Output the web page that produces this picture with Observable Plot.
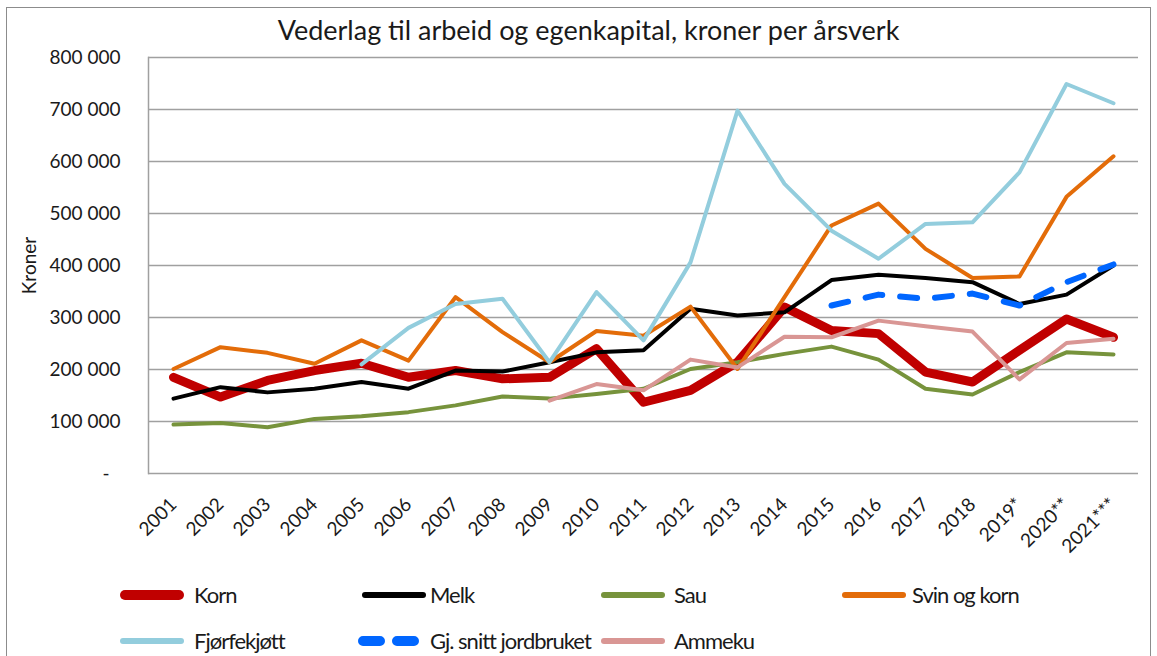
<!DOCTYPE html>
<html><head><meta charset="utf-8">
<script src="https://cdn.jsdelivr.net/npm/d3@7"></script>
<script src="https://cdn.jsdelivr.net/npm/@observablehq/plot@0.6"></script>
<style>
body{margin:0;background:#fff;}
#wrap{position:relative;width:1157px;height:656px;overflow:hidden;font-family:Lato, sans-serif;color:#1a1a1a;background:#fff;}
#frame{position:absolute;left:6px;top:7px;width:1143px;height:700px;border:1.5px solid #8c8c8c;}
#title{position:absolute;top:14px;left:20px;width:1137px;text-align:center;font-size:27px;line-height:32px;white-space:nowrap;}
#chart{position:absolute;top:45px;left:0;}
.sw{position:absolute;}
.lt{position:absolute;font-size:22px;line-height:22px;letter-spacing:-1px;white-space:nowrap;}
</style></head>
<body>
<div id="wrap">
  <div id="frame"></div>
  <div id="title">Vederlag til arbeid og egenkapital, kroner per årsverk</div>
  <div id="chart"></div>
</div>
<script>
const years = ["2001","2002","2003","2004","2005","2006","2007","2008","2009","2010","2011","2012","2013","2014","2015","2016","2017","2018","2019*","2020**","2021***"];
const korn    = [185000,147000,179000,198000,212000,185000,198000,182000,185000,240000,137000,160000,214000,320000,275000,269000,195000,176000,237000,297000,262000];
const melk    = [144000,166000,156000,163000,176000,163000,198000,196000,214000,233000,237000,317000,304000,310000,372000,382000,376000,368000,326000,344000,400000];
const sau     = [94000,97000,89000,105000,110000,118000,131000,148000,144000,153000,163000,201000,214000,230000,244000,219000,163000,152000,195000,233000,229000];
const svinKorn= [201000,243000,232000,211000,256000,217000,339000,272000,214000,274000,265000,321000,201000,339000,477000,519000,432000,376000,379000,532000,610000];
const fjorfe  = [null,null,null,null,210000,280000,326000,336000,214000,349000,256000,406000,698000,557000,467000,413000,480000,483000,579000,749000,712000];
const gjsnitt = [null,null,null,null,null,null,null,null,null,null,null,null,null,null,323000,344000,336000,346000,323000,368000,402000];
const ammeku  = [null,null,null,null,null,null,null,null,140000,172000,160000,219000,204000,263000,262000,294000,283000,273000,181000,251000,259000];
const yTicks  = [0,100000,200000,300000,400000,500000,600000,700000,800000];

const seriesNames = ["Korn","Melk","Sau","Svin og korn","Fjørfekjøtt","Gj. snitt jordbruket","Ammeku"];
const seriesValues = [korn, melk, sau, svinKorn, fjorfe, gjsnitt, ammeku];
const colors = ["#C00000","#000000","#77933C","#E36C09","#93CDDD","#0066FF","#D99694"];
const widths = [9, 4, 4, 4, 4, 6, 4];
const dashes = [null,null,null,null,null,"17,18",null];

const rows = [];
seriesNames.forEach((s, i) => seriesValues[i].forEach((v, j) => { if (v != null) rows.push({series: s, year: years[j], value: v}); }));

const fmt = d => d === 0 ? "-\u2007" : d3.format(",")(d).replace(/,/g, "\u00a0");

const chart = Plot.plot({
  width: 1157, height: 528,
  marginTop: 12, marginLeft: 148, marginRight: 19, marginBottom: 100,
  style: {fontFamily: "Lato, sans-serif", fontSize: "19px", color: "#1a1a1a", background: "transparent"},
  x: {type: "point", domain: years, padding: 0.5},
  y: {domain: [0, 800000]},
  marks: [
    Plot.gridY(yTicks, {stroke: "#a0a0a0", strokeOpacity: 1, strokeWidth: 1.5}),
    Plot.frame({anchor: "left", stroke: "#a0a0a0", strokeWidth: 1.5}),
    Plot.axisY(yTicks, {tickSize: 0, tickPadding: 28, tickFormat: fmt, label: "Kroner", labelAnchor: "center", labelArrow: "none", labelOffset: 126, style: {letterSpacing: "0.7px", fontSize: "20px"}}),
    Plot.axisX({tickRotate: -45, tickSize: 0, tickPadding: 28, label: null}),
    ...seriesNames.map((s, i) => Plot.line(rows.filter(r => r.series === s), {
      x: "year", y: "value", stroke: colors[i], strokeWidth: widths[i],
      strokeDasharray: dashes[i] || undefined,
      strokeLinejoin: "round", strokeLinecap: "round"
    }))
  ]
});
document.getElementById("chart").appendChild(chart);

// Legend
const wrap = document.getElementById("wrap");
const lineX = [120, 362, 601, 842, 120, 362, 601];
const textX = [194, 430, 674, 912, 194, 430, 674];
const rowY  = [595, 595, 595, 595, 641, 641, 641];
const legW  = [10, 6, 6, 6, 6, 10, 6];
seriesNames.forEach((s, i) => {
  const svg = d3.create("svg").attr("class", "sw")
    .attr("width", 74).attr("height", 16)
    .style("left", (lineX[i] - 4) + "px").style("top", (rowY[i] - 8) + "px");
  const ln = svg.append("line").attr("x1", 4 + legW[i]/2).attr("x2", 68 - legW[i]/2).attr("y1", 8).attr("y2", 8)
    .attr("stroke", colors[i]).attr("stroke-width", legW[i]).attr("stroke-linecap", "round");
  if (dashes[i]) { ln.attr("x1", 5).attr("x2", 64).attr("stroke-dasharray", "17,17"); }
  wrap.appendChild(svg.node());
  const t = document.createElement("div");
  t.className = "lt"; t.textContent = s;
  t.style.left = textX[i] + "px"; t.style.top = (rowY[i] - 11.5) + "px";
  wrap.appendChild(t);
});
</script>
</body></html>
